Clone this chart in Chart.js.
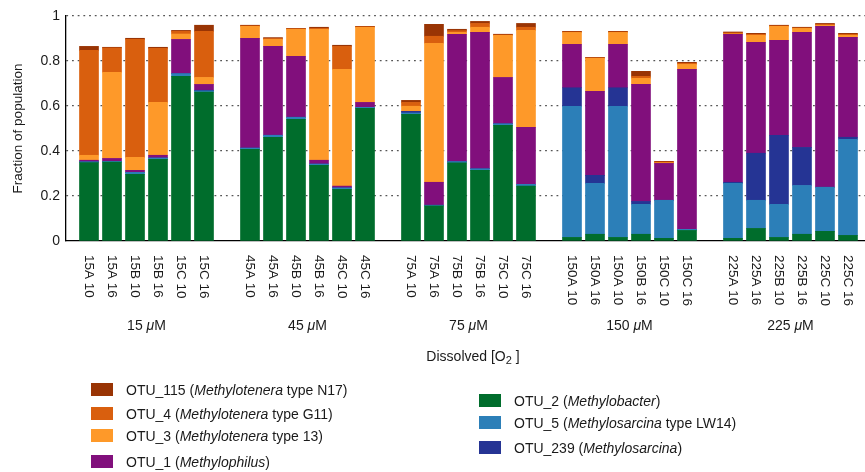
<!DOCTYPE html>
<html>
<head>
<meta charset="utf-8">
<script src="https://cdn.jsdelivr.net/npm/chart.js@4.4.1/dist/chart.umd.min.js"></script>
<style>
  body { margin: 0; background: #fff; font-family: "Liberation Sans", Arial, sans-serif; }
  #wrap { position: relative; width: 865px; height: 472px; overflow: hidden; }
  #chart { position: absolute; left: 0; top: 0; }
  .sw { position: absolute; width: 22px; height: 13px; }
  .lt { position: absolute; font-size: 14px; line-height: 13px; color: #1a1a1a; white-space: nowrap; }
</style>
</head>
<body>
<div id="wrap"><canvas id="chart" width="865" height="472"></canvas></div>
<script>
const groups = ['15', '45', '75', '150', '225'];
const samples = [
  '15A 10', '15A 16', '15B 10', '15B 16', '15C 10', '15C 16',
  '45A 10', '45A 16', '45B 10', '45B 16', '45C 10', '45C 16',
  '75A 10', '75A 16', '75B 10', '75B 16', '75C 10', '75C 16',
  '150A 10', '150A 16', '150A 10', '150B 16', '150C 10', '150C 16',
  '225A 10', '225A 16', '225B 10', '225B 16', '225C 10', '225C 16'
];

// stacked bottom -> top
const otu2 = [.348, .351, .296, .363, .732, .662,  .407, .461, .541, .336, .230, .590,
              .563, .156, .347, .314, .514, .244,  .016, .030, .016, .030, .012, .047,
              .012, .056, .016, .030, .043, .025];
const otu5 = [.004, .003, .009, .006, .012, .005,  .006, .009, .009, .006, .006, .004,
              .006, .003, .006, .007, .007, .008,  .583, .226, .583, .133, .169, .005,
              .244, .125, .147, .217, .196, .427];
const otu239 = [0, 0, 0, 0, 0, .003,  0, 0, 0, 0, 0, 0,
                .007, 0, 0, 0, 0, 0,  .082, .036, .082, .013, 0, 0,
                .005, .209, .307, .169, 0, .009];
const otu1 = [.007, .013, .009, .012, .152, .026,  .488, .395, .271, .017, .008, .022,
              0, .102, .566, .606, .206, .253,  .193, .373, .193, .520, .164, .711,
              .658, .493, .422, .511, .715, .444];
const otu3 = [.022, .383, .058, .235, .024, .031,  .053, .031, .120, .582, .519, .334,
              .023, .618, .008, .023, .187, .431,  .053, .147, .053, .027, .003, .022,
              .002, .031, .062, .018, .004, .009];
const otu4 = [.466, .108, .524, .240, .012, .205,  .002, .004, .002, .004, .102, .002,
              .017, .031, .008, .017, .002, .014,  .002, .002, .002, .009, .003, .005,
              .004, .005, .002, .002, .005, .005];
const otu115 = [.018, .003, .005, .005, .004, .027,  .003, .004, .002, .005, .005, .002,
                .009, .053, .006, .009, .003, .017,  .003, .002, .003, .022, .003, .004,
                .004, .004, .003, .003, .004, .004];

const yTicks = [0, 0.2, 0.4, 0.6, 0.8, 1];

const series = [
  { name: 'OTU_2 (<i>Methylobacter</i>)', data: otu2, color: '#006d2c' },
  { name: 'OTU_5 (<i>Methylosarcina</i> type LW14)', data: otu5, color: '#2c7fb8' },
  { name: 'OTU_239 (<i>Methylosarcina</i>)', data: otu239, color: '#253494' },
  { name: 'OTU_1 (<i>Methylophilus</i>)', data: otu1, color: '#810f7c' },
  { name: 'OTU_3 (<i>Methylotenera</i> type 13)', data: otu3, color: '#fe9929' },
  { name: 'OTU_4 (<i>Methylotenera</i> type G11)', data: otu4, color: '#d95f0e' },
  { name: 'OTU_115 (<i>Methylotenera</i> type N17)', data: otu115, color: '#993404' }
];

// one empty slot between the O2 groups
const sampleX = samples.map((s, i) => Math.floor(i / 6) * 7 + (i % 6) + 1);

const FONT = '"Liberation Sans", Arial, sans-serif';

function drawRuns(ctx, runs, cx, cy) {
  let total = 0;
  runs.forEach(r => { ctx.font = r.font; total += ctx.measureText(r.text).width; });
  let x = cx - total / 2;
  ctx.textAlign = 'left';
  ctx.textBaseline = 'middle';
  runs.forEach(r => {
    ctx.font = r.font;
    ctx.fillText(r.text, x, cy + (r.dy || 0));
    x += ctx.measureText(r.text).width;
  });
}

const textPlugin = {
  id: 'textPlugin',
  afterDraw(chart) {
    const ctx = chart.ctx;
    const xs = chart.scales.x;
    const area = chart.chartArea;
    ctx.save();
    ctx.fillStyle = '#1a1a1a';

    // sample labels, rotated to read downwards
    ctx.font = '13.5px ' + FONT;
    ctx.textAlign = 'left';
    ctx.textBaseline = 'middle';
    samples.forEach((s, i) => {
      ctx.save();
      ctx.translate(xs.getPixelForValue(sampleX[i]), area.bottom + 14);
      ctx.rotate(Math.PI / 2);
      ctx.fillText(s, 0, 0);
      ctx.restore();
    });

    // group labels
    groups.forEach((g, k) => {
      const cx = (xs.getPixelForValue(k * 7 + 1) + xs.getPixelForValue(k * 7 + 6)) / 2;
      drawRuns(ctx, [
        { text: g + ' ', font: '14px ' + FONT },
        { text: 'μ', font: 'italic 14px ' + FONT },
        { text: 'M', font: '14px ' + FONT }
      ], cx, 326);
    });

    // x title
    drawRuns(ctx, [
      { text: 'Dissolved [O', font: '14px ' + FONT },
      { text: '2', font: '11px ' + FONT, dy: 4 },
      { text: ' ]', font: '14px ' + FONT }
    ], 473, 357);

    // y title
    ctx.save();
    ctx.translate(18, (area.top + area.bottom) / 2);
    ctx.rotate(-Math.PI / 2);
    ctx.font = '13.5px ' + FONT;
    ctx.textAlign = 'center';
    ctx.textBaseline = 'middle';
    ctx.fillText('Fraction of population', 0, 0);
    ctx.restore();

    ctx.restore();
  }
};

new Chart(document.getElementById('chart'), {
  type: 'bar',
  data: {
    datasets: series.map(s => ({
      label: s.name,
      data: s.data.map((v, i) => ({ x: sampleX[i], y: v })),
      backgroundColor: s.color,
      borderWidth: 0,
      barThickness: 19
    }))
  },
  options: {
    responsive: false,
    animation: false,
    layout: { padding: { top: 16, right: 0, left: 0, bottom: 0 } },
    plugins: {
      legend: { display: false },
      tooltip: { enabled: false }
    },
    scales: {
      x: {
        type: 'linear',
        min: 0,
        max: 34.74,
        offset: false,
        stacked: true,
        grid: { display: false, drawTicks: false, offset: false },
        border: { display: true, color: '#000', width: 1.3 },
        ticks: { display: false },
        afterFit: s => { s.height = 231; }
      },
      y: {
        stacked: true,
        min: 0,
        max: 1,
        afterBuildTicks: s => { s.ticks = yTicks.map(v => ({ value: v })); },
        ticks: {
          font: { size: 14, family: FONT },
          color: '#1a1a1a',
          padding: 6,
          callback: v => String(v)
        },
        grid: {
          drawTicks: false,
          color: c => (c.tick && c.tick.value === 0) ? 'rgba(0,0,0,0)' : '#555',
          lineWidth: 1.2
        },
        border: { display: true, color: '#000', width: 1.3, dash: [1.8, 3.9] },
        afterFit: s => { s.width = 66; }
      }
    }
  },
  plugins: [textPlugin]
});

// legend, two columns as in the figure
const wrap = document.getElementById('wrap');
const legendCols = [
  { items: [6, 5, 4, 3], left: 91, tops: [383, 407, 429, 455] },
  { items: [0, 1, 2], left: 479, tops: [394, 416, 441] }
];
legendCols.forEach(col => {
  col.items.forEach((idx, j) => {
    const sw = document.createElement('div');
    sw.className = 'sw';
    sw.style.left = col.left + 'px';
    sw.style.top = col.tops[j] + 'px';
    sw.style.background = series[idx].color;
    wrap.appendChild(sw);
    const t = document.createElement('div');
    t.className = 'lt';
    t.style.left = (col.left + 35) + 'px';
    t.style.top = (col.tops[j] + 1) + 'px';
    t.innerHTML = series[idx].name;
    wrap.appendChild(t);
  });
});
</script>
</body>
</html>
